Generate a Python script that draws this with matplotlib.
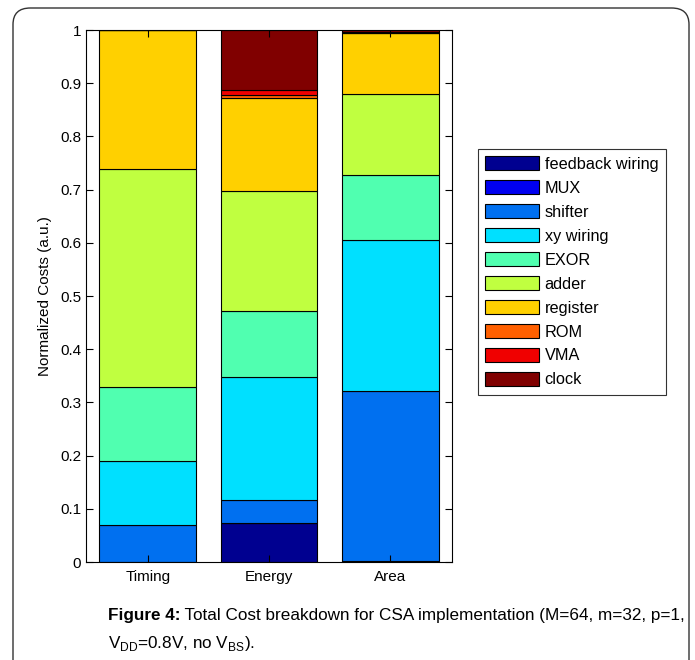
import matplotlib
matplotlib.use("Agg")
import matplotlib.pyplot as plt
import numpy as np
from matplotlib.patches import FancyBboxPatch

plt.rcParams['font.family'] = ['Liberation Sans', 'DejaVu Sans']
plt.rcParams['mathtext.fontset'] = 'custom'
plt.rcParams['mathtext.rm'] = 'Liberation Sans'

categories = ['Timing', 'Energy', 'Area']
components = ['feedback wiring', 'MUX', 'shifter', 'xy wiring', 'EXOR',
              'adder', 'register', 'ROM', 'VMA', 'clock']
# share of each component, one row per category
timing = [0.0, 0.0, 0.069, 0.121, 0.139, 0.409, 0.262, 0.0, 0.0, 0.0]
energy = [0.073, 0.0, 0.043, 0.232, 0.123, 0.227, 0.174, 0.005, 0.010, 0.113]
area = [0.002, 0.0, 0.320, 0.283, 0.122, 0.153, 0.114, 0.001, 0.002, 0.003]
comp_colors = ['#000090', '#0000f0', '#0070f0', '#00e0ff', '#50ffb0',
               '#c0ff40', '#ffd000', '#ff6000', '#f00000', '#800000']

yticks = [0, 0.1, 0.2, 0.3, 0.4, 0.5, 0.6, 0.7, 0.8, 0.9, 1]
ytick_labels = ['0', '0.1', '0.2', '0.3', '0.4', '0.5', '0.6', '0.7', '0.8', '0.9', '1']

fig = plt.figure(figsize=(6.95, 6.6), dpi=100)

# outer rounded frame
frame = FancyBboxPatch((13 / 695, -0.05), 676 / 695, 0.05 + (660 - 8) / 660,
                       boxstyle="round,pad=0,rounding_size=0.025",
                       transform=fig.transFigure, fill=False,
                       edgecolor='#333333', linewidth=1.0)
fig.patches.append(frame)

ax = fig.add_axes([86 / 695, 98 / 660, 366 / 695, 532 / 660])

data = np.array([timing, energy, area])
x = np.arange(1, len(categories) + 1)
bottom = np.zeros(len(categories))
for j, name in enumerate(components):
    ax.bar(x, data[:, j], 0.8, bottom=bottom, color=comp_colors[j],
           edgecolor='black', linewidth=0.8, label=name)
    bottom += data[:, j]

ax.set_xlim(0.49, 3.51)
ax.set_ylim(0, 1)
ax.set_xticks(x)
ax.set_xticklabels(categories, fontsize=11)
ax.set_yticks(yticks)
ax.set_yticklabels(ytick_labels, fontsize=11)
ax.tick_params(direction='in', length=5, width=0.8, right=True, top=True,
               labelright=False, labeltop=False)
ax.tick_params(axis='x', pad=6)
ax.set_ylabel('Normalized Costs (a.u.)', fontsize=11, labelpad=6)
for s in ax.spines.values():
    s.set_linewidth(0.8)

leg = ax.legend(loc='upper left', bbox_to_anchor=(1.071, 0.777),
                fontsize=11.7, frameon=True, fancybox=False,
                edgecolor='black', handlelength=3.3, handleheight=1.0,
                labelspacing=0.5, handletextpad=0.35, borderpad=0.45,
                borderaxespad=0)
leg.get_frame().set_linewidth(0.8)

# caption
cap_font = ['Liberation Sans', 'DejaVu Sans']
t1 = fig.text(108 / 695, 1 - 620 / 660, 'Figure 4:', fontsize=12.3,
              fontweight='bold', family=cap_font, va='baseline')
ax2 = fig.add_axes([0, 0, 1, 1], facecolor='none')
ax2.set_axis_off()
ax2.annotate(' Total Cost breakdown for CSA implementation (M=64, m=32, p=1,',
             xy=(1, 0), xycoords=t1, va='bottom', ha='left',
             fontsize=12.3, family=cap_font)
fig.text(108 / 695, 1 - 648 / 660,
         r'V$_{\mathrm{DD}}$=0.8V, no V$_{\mathrm{BS}}$).',
         fontsize=12.3, family=cap_font, va='baseline')

fig.savefig('out.png', dpi=100)
